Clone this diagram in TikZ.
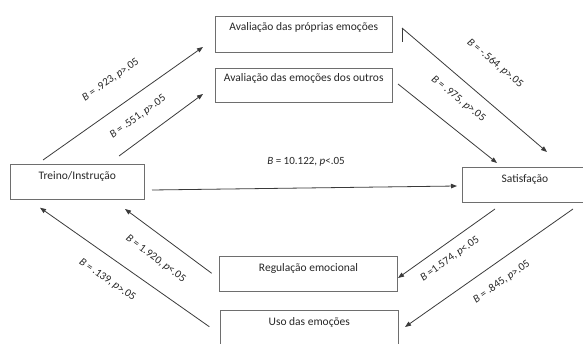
\documentclass[tikz,border=0pt]{standalone}
\usepackage{fontspec}
\setmainfont{Carlito}
\usetikzlibrary{arrows.meta}
\definecolor{linegray}{HTML}{3A3A3A}
\definecolor{boxgray}{HTML}{6E6E6E}
\definecolor{txt}{HTML}{262626}
\begin{document}
\begin{tikzpicture}[x=1pt,y=-1pt,
  box/.style={draw=boxgray, line width=0.9pt, rectangle, inner sep=0pt},
  boxtext/.style={font=\fontsize{11.5}{13}\selectfont, text=txt, inner sep=0pt},
  lab/.style={font=\fontsize{11}{13}\selectfont, text=txt, inner sep=0pt},
  arr/.style={draw=linegray, line width=0.8pt, -{Triangle[length=6pt,width=4.5pt]}}]
\useasboundingbox (0,0) rectangle (583,344);
\clip (0,0) rectangle (583,344);
% boxes
\node[box, minimum width=177.5pt, minimum height=36pt] (ape) at (303.75,34) {};
\node[box, minimum width=177.5pt, minimum height=34pt] (aeo) at (303.75,85) {};
\node[box, minimum width=133.3pt, minimum height=35pt] (tre) at (77.35,181.5) {};
\node[box, minimum width=138pt, minimum height=35.5pt] (sat) at (531,184.75) {};
\node[box, minimum width=178pt, minimum height=35pt] (reg) at (308.5,273.5) {};
\node[box, minimum width=177.5pt, minimum height=35.3pt] (uso) at (309.25,328.35) {};
% box texts
\node[boxtext] (tape) at ([yshift=-12pt]ape.north) {Avaliação das próprias emoções};
\node[boxtext] (taeo) at ([yshift=-11pt]aeo.north) {Avaliação das emoções dos outros};
\node[boxtext] (ttre) at ([yshift=-13pt]tre.north) {Treino/Instrução};
\node[boxtext] (tsat) at (525,179) {Satisfação};
\node[boxtext] (treg) at ([yshift=-13pt]reg.north) {Regulação emocional};
\node[boxtext] (tuso) at ([yshift=-12.6pt]uso.north) {Uso das emoções};
% connector end points
\coordinate (a1s) at (43,160);   \coordinate (a1e) at (203,47);
\coordinate (a2s) at (119,156);  \coordinate (a2e) at (203,94);
\coordinate (a3s) at (402,28);   \coordinate (a3e) at (547,152);
\coordinate (a3t) at (402,41.7);
\coordinate (a4s) at (398,84);   \coordinate (a4e) at (497,163);
\coordinate (a5s) at (152,190);  \coordinate (a5e) at (457,186);
\coordinate (a6s) at (495,209);  \coordinate (a6e) at (398,278);
\coordinate (a7s) at (573,209);  \coordinate (a7e) at (405,327);
\coordinate (a8s) at (211.7,273.3); \coordinate (a8e) at (125,209);
\coordinate (a9s) at (209.3,326.7); \coordinate (a9e) at (40,207.7);
% connectors
\draw[arr] (a1s) -- (a1e);
\draw[arr] (a2s) -- (a2e);
\draw[arr] (a3s) -- (a3e);
\draw[draw=linegray, line width=0.8pt] (a3s) -- (a3t);
\draw[arr] (a4s) -- (a4e);
\draw[arr] (a5s) -- (a5e);
\draw[arr] (a6s) -- (a6e);
\draw[arr] (a7s) -- (a7e);
\draw[arr] (a8s) -- (a8e);
\draw[arr] (a9s) -- (a9e);
% labels
\node[lab, rotate=35] (l1) at (110.8,80) {\textit{B} = .923, \textit{p}>.05};
\node[lab, rotate=36] (l2) at (138,117) {\textit{B} = .551, \textit{p}>.05};
\node[lab, rotate=-40] (l3) at (495,63.3) {\textit{B} = -.564, \textit{p}>.05};
\node[lab, rotate=-39] (l4) at (458.3,99) {\textit{B} = .975, \textit{p}>.05};
\node[lab] (l5) at (306,162) {\textit{B} = 10.122, \textit{p}<.05};
\node[lab, rotate=35.4] (l6) at (450,259) {\textit{B} =1.574, \textit{p}<.05};
\node[lab, rotate=35] (l7) at (501.7,281.7) {\textit{B} = .845, \textit{p}>.05};
\node[lab, rotate=-36.6] (l8) at (155.7,259) {\textit{B} = 1.920, \textit{p}<.05};
\node[lab, rotate=-35] (l9) at (107.3,280) {\textit{B} = .139, \textit{p}>.05};
\end{tikzpicture}
\end{document}
